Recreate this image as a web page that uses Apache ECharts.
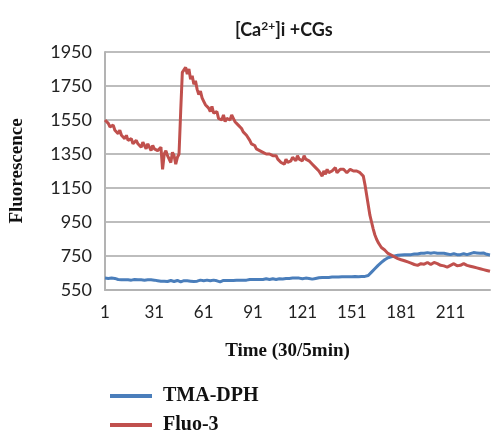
<!DOCTYPE html>
<html>
<head>
<meta charset="utf-8">
<script src="https://cdn.jsdelivr.net/npm/echarts@6/dist/echarts.min.js"></script>
<style>html,body{margin:0;padding:0;background:#fff;}#c{width:492px;height:430px;}</style>
</head>
<body>
<div id="c"></div>
<script>
// Time points 1..235
const categories = [];
for (let i = 1; i <= 235; i++) categories.push(String(i));

const seriesNames = ['TMA-DPH', 'Fluo-3'];

const tmaDph = [
  620, 622, 618, 620, 620, 616, 618, 615, 612, 612,
  610, 608, 610, 608, 610, 610, 608, 610, 612, 610,
  610, 608, 610, 610, 608, 610, 610, 608, 610, 610,
  608, 610, 605, 600, 602, 605, 602, 605, 600, 604,
  606, 602, 600, 604, 606, 600, 598, 602, 605, 600,
  604, 606, 602, 604, 600, 598, 602, 606, 608, 606,
  605, 606, 608, 606, 604, 606, 608, 606, 604, 600,
  598, 604, 606, 604, 606, 608, 606, 605, 606, 608,
  608, 610, 608, 606, 608, 610, 608, 610, 612, 610,
  612, 610, 612, 614, 612, 615, 612, 614, 616, 614,
  612, 614, 616, 615, 612, 614, 616, 618, 615, 616,
  618, 620, 618, 622, 620, 618, 620, 622, 620, 618,
  616, 618, 620, 622, 618, 616, 614, 616, 618, 620,
  622, 620, 624, 622, 624, 626, 624, 625, 626, 626,
  626, 628, 626, 628, 628, 626, 628, 628, 628, 628,
  628, 628, 630, 628, 628, 630, 630, 628, 630, 630,
  635, 645, 655, 665, 675, 685, 695, 705, 712, 720,
  728, 735, 740, 742, 745, 748, 750, 752, 754, 755,
  756, 755, 758, 756, 758, 760, 758, 760, 762, 760,
  762, 764, 766, 764, 766, 768, 770, 768, 766, 768,
  770, 768, 766, 764, 766, 768, 766, 764, 762, 760,
  758, 760, 764, 762, 758, 756, 758, 762, 764, 760,
  758, 762, 764, 768, 770, 772, 768, 764, 766, 770,
  768, 764, 760, 758, 756
];

const fluo3 = [
  1550, 1540, 1530, 1510, 1500, 1520, 1490, 1480, 1470, 1490,
  1460, 1450, 1440, 1460, 1430, 1420, 1440, 1410, 1400, 1430,
  1410, 1400, 1390, 1420, 1400, 1380, 1410, 1390, 1370, 1400,
  1380, 1390, 1370, 1360, 1390, 1260, 1350, 1370, 1340, 1330,
  1300, 1360, 1340, 1290, 1330, 1350, 1600, 1830, 1840, 1860,
  1820, 1850, 1790, 1810, 1760, 1780, 1730, 1700, 1720, 1680,
  1660, 1640, 1650, 1620, 1600, 1630, 1590, 1580, 1600, 1560,
  1570, 1550, 1580, 1540, 1560, 1570, 1550, 1580, 1560, 1540,
  1530, 1520, 1510, 1500, 1480, 1490, 1460, 1450, 1430, 1410,
  1420, 1400, 1380, 1390, 1370, 1380, 1360, 1370, 1350, 1360,
  1350, 1360, 1340, 1330, 1340, 1320, 1330, 1300, 1310, 1290,
  1320, 1300, 1290, 1310, 1330, 1320, 1310, 1340, 1320, 1330,
  1310, 1340, 1320, 1330, 1310, 1300, 1290, 1280, 1270, 1260,
  1250, 1240, 1220, 1250, 1230, 1260, 1240, 1230, 1250, 1260,
  1270, 1240, 1250, 1260, 1250, 1260, 1250, 1240, 1250, 1260,
  1255, 1250, 1260, 1250, 1245, 1240, 1235, 1220, 1170, 1110,
  1050, 990, 950, 910, 875, 850, 830, 815, 800, 790,
  785, 775, 765, 760, 755, 750, 745, 740, 735, 730,
  728, 725, 722, 718, 715, 712, 708, 705, 700, 698,
  695, 700, 705, 698, 702, 708, 712, 705, 700, 710,
  712, 708, 705, 700, 695, 690, 692, 688, 685, 690,
  695, 700, 705, 698, 692, 690, 695, 700, 705, 700,
  695, 692, 690, 688, 685, 682, 680, 678, 675, 672,
  670, 668, 665, 662, 660
];

const yTicks = [550, 750, 950, 1150, 1350, 1550, 1750, 1950];

const chart = echarts.init(document.getElementById('c'), null, {renderer: 'canvas'});
chart.setOption({
  backgroundColor: '#ffffff',
  animation: false,
  title: {
    text: '[Ca{sup|2+}]i +CGs',
    left: 230,
    top: 15,
    textStyle: {
      fontFamily: 'Lato',
      fontWeight: 'bold',
      fontSize: 18,
      color: '#1a1a1a',
      rich: {
        sup: {fontFamily: 'Lato', fontWeight: 'bold', fontSize: 12, verticalAlign: 'top', padding: [0, 0, 9, 0], color: '#1a1a1a'}
      }
    }
  },
  grid: {left: 101, top: 52, right: 2, bottom: 140, containLabel: false},
  xAxis: {
    type: 'category',
    data: categories,
    boundaryGap: false,
    name: 'Time (30/5min)',
    nameLocation: 'middle',
    nameGap: 52,
    nameTextStyle: {fontFamily: 'Liberation Serif', fontWeight: 'bold', fontSize: 19, color: '#111', padding: [0, 20, 0, 0]},
    axisLine: {show: true, lineStyle: {color: '#b3b3b3', width: 2}},
    axisTick: {show: false},
    axisLabel: {interval: 29, margin: 14, fontFamily: 'Lato', fontSize: 17, color: '#222'},
    splitLine: {show: false}
  },
  yAxis: {
    type: 'value',
    min: 550,
    max: 1950,
    interval: 200,
    name: 'Fluorescence',
    nameLocation: 'middle',
    nameGap: 78,
    nameTextStyle: {fontFamily: 'Liberation Serif', fontWeight: 'bold', fontSize: 19, color: '#111'},
    axisLine: {show: true, lineStyle: {color: '#b3b3b3', width: 2}},
    axisTick: {show: false, customValues: yTicks},
    axisLabel: {margin: 13, fontFamily: 'Lato', fontSize: 18, color: '#222', customValues: yTicks, formatter: function (v) { return String(v); }},
    splitLine: {show: true, lineStyle: {color: '#bdbdbd', width: 2}}
  },
  legend: {
    orient: 'vertical',
    left: 105,
    top: 381,
    height: 90,
    itemWidth: 42,
    itemHeight: 14,
    itemGap: 9,
    icon: 'path://M0,5 L42,5 L42,9 L0,9 Z',
    data: seriesNames,
    textStyle: {fontFamily: 'Liberation Serif', fontWeight: 'bold', fontSize: 20, color: '#111', padding: [0, 0, 0, 6]}
  },
  series: [
    {name: seriesNames[0], type: 'line', data: tmaDph, symbol: 'none', lineStyle: {color: '#4a7ebb', width: 3}, itemStyle: {color: '#4a7ebb'}},
    {name: seriesNames[1], type: 'line', data: fluo3, symbol: 'none', lineStyle: {color: '#c0504d', width: 3}, itemStyle: {color: '#c0504d'}}
  ]
});
</script>
</body>
</html>
